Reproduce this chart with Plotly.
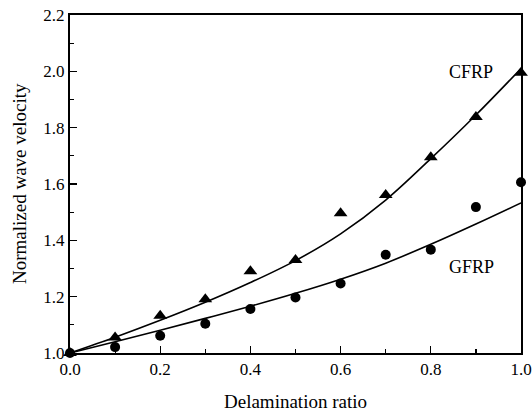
import plotly.graph_objects as go

ratio = [0.0, 0.1, 0.2, 0.3, 0.4, 0.5, 0.6, 0.7, 0.8, 0.9, 1.0]
cfrp_measured = [1.0, 1.055, 1.132, 1.191, 1.29, 1.33, 1.496, 1.561, 1.695, 1.838, 1.995]
gfrp_measured = [1.0, 1.021, 1.061, 1.104, 1.156, 1.197, 1.247, 1.349, 1.367, 1.518, 1.606]
cfrp_fit = [1.0, 1.056, 1.116, 1.18, 1.25, 1.328, 1.423, 1.543, 1.69, 1.845, 2.01]
gfrp_fit = [1.0, 1.04, 1.081, 1.123, 1.166, 1.212, 1.262, 1.319, 1.386, 1.458, 1.533]

x_ticks = [0.0, 0.2, 0.4, 0.6, 0.8, 1.0]
x_ticktext = ["0.0", "0.2", "0.4", "0.6", "0.8", "1.0"]
y_ticks = [1.0, 1.2, 1.4, 1.6, 1.8, 2.0, 2.2]
y_ticktext = ["1.0", "1.2", "1.4", "1.6", "1.8", "2.0", "2.2"]

FONT = "Liberation Serif"

fig = go.Figure()
fig.add_trace(go.Scatter(x=ratio, y=cfrp_fit, mode="lines", line=dict(color="black", width=1.6, shape="spline"),
                         showlegend=False, cliponaxis=False))
fig.add_trace(go.Scatter(x=ratio, y=gfrp_fit, mode="lines", line=dict(color="black", width=1.6, shape="spline"),
                         showlegend=False, cliponaxis=False))
fig.add_trace(go.Scatter(x=ratio, y=cfrp_measured, mode="markers",
                         marker=dict(symbol="triangle-up", size=12, color="black"),
                         showlegend=False, cliponaxis=False))
fig.add_trace(go.Scatter(x=ratio, y=gfrp_measured, mode="markers",
                         marker=dict(symbol="circle", size=10, color="black"),
                         showlegend=False, cliponaxis=False))

fig.add_annotation(x=0.89, y=1.997, text="CFRP", showarrow=False,
                   font=dict(family=FONT, size=18, color="black"))
fig.add_annotation(x=0.89, y=1.304, text="GFRP", showarrow=False,
                   font=dict(family=FONT, size=18, color="black"))

# axis titles
fig.add_annotation(x=0.5, y=0, xref="paper", yref="paper", yanchor="middle", yshift=-48,
                   text="Delamination ratio", showarrow=False,
                   font=dict(family=FONT, size=19, color="black"))
fig.add_annotation(x=0, y=0.5, xref="paper", yref="paper", xanchor="center", xshift=-51,
                   text="Normalized wave velocity", textangle=-90, showarrow=False,
                   font=dict(family=FONT, size=19, color="black"))

axis_common = dict(showgrid=False, zeroline=False, showline=True, linecolor="black", linewidth=2,
                   mirror=True, ticks="inside", ticklen=7, tickwidth=1.2, tickcolor="black",
                   automargin=False, tickfont=dict(family=FONT, size=17, color="black"))

fig.update_xaxes(range=[0, 1.0], tickvals=x_ticks, ticktext=x_ticktext,
                 minor=dict(tickvals=[0.1, 0.3, 0.5, 0.7, 0.9], ticks="inside", ticklen=4, tickcolor="black"),
                 **axis_common)
fig.update_yaxes(range=[1.0, 2.2], tickvals=y_ticks, ticktext=y_ticktext,
                 minor=dict(tickvals=[1.1, 1.3, 1.5, 1.7, 1.9, 2.1], ticks="inside", ticklen=4, tickcolor="black"),
                 **axis_common)

fig.update_layout(width=532, height=413, margin=dict(l=70, r=11, t=15, b=60),
                  paper_bgcolor="white", plot_bgcolor="white", hovermode=False)

fig.write_html("out.html", config={"displayModeBar": False, "staticPlot": True},
               post_script="document.body.style.margin='0px';document.documentElement.style.overflow='hidden';")
